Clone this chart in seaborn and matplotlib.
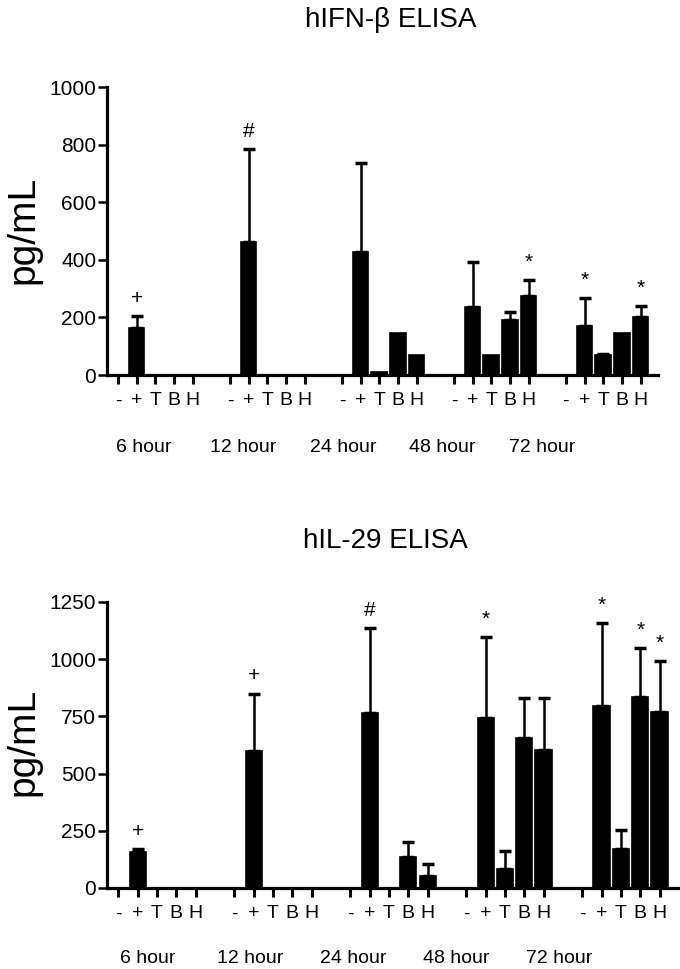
import numpy as np
import pandas as pd
import matplotlib
matplotlib.use("Agg")
import matplotlib.pyplot as plt
import matplotlib.transforms as mtransforms
import seaborn as sns

# ---- data (pg/mL) ----
groups = ["6 hour", "12 hour", "24 hour", "48 hour", "72 hour"]
treatments = ["-", "+", "T", "B", "H"]

ifn_mean = [0, 163, 0, 0, 0,
            0, 462, 0, 0, 0,
            0, 427, 10, 146, 69,
            0, 236, 69, 191, 274,
            0, 170, 69, 146, 201]
ifn_err = [0, 42, 0, 0, 0,
           0, 323, 0, 0, 0,
           0, 309, 0, 0, 0,
           0, 156, 0, 28, 56,
           0, 97, 3, 0, 39]
ifn_mark = ["", "+", "", "", "",
            "", "#", "", "", "",
            "", "", "", "", "",
            "", "", "", "", "*",
            "", "*", "", "", "*"]

il29_mean = [0, 157, 0, 0, 0,
             0, 599, 0, 0, 0,
             0, 765, 0, 136, 52,
             0, 743, 83, 656, 603,
             0, 795, 170, 835, 769]
il29_err = [0, 13, 0, 0, 0,
            0, 249, 0, 0, 0,
            0, 371, 0, 65, 53,
            0, 354, 79, 174, 227,
            0, 363, 83, 214, 223]
il29_mark = ["", "+", "", "", "",
             "", "+", "", "", "",
             "", "#", "", "", "",
             "", "*", "", "", "",
             "", "*", "", "*", "*"]

ifn_ticks = [0, 200, 400, 600, 800, 1000]
il29_ticks = [0, 250, 500, 750, 1000, 1250]

sns.set_style("ticks")
plt.rcParams['font.family'] = ['Liberation Sans', 'DejaVu Sans']
for key in ["text.color", "axes.labelcolor", "xtick.color", "ytick.color", "axes.edgecolor"]:
    plt.rcParams[key] = "black"

# slot order: 5 bars per time point with one empty slot in between
order = []
for gi, g in enumerate(groups):
    order += [g + "|" + t for t in treatments]
    if gi < len(groups) - 1:
        order.append("gap%d" % gi)


def draw_panel(ax, mean, err, mark, ticks):
    df = pd.DataFrame({
        "slot": [g + "|" + t for g in groups for t in treatments],
        "treat": [t for g in groups for t in treatments],
        "value": mean, "err": err, "mark": mark,
    })
    sns.barplot(data=df, x="slot", y="value", order=order, color="black",
                saturation=1, width=0.84, errorbar=None, ax=ax,
                edgecolor="black", linewidth=1.2)
    pos = np.array([order.index(s) for s in df["slot"]])
    has = (df["err"] > 0).values
    ax.errorbar(pos[has], df["value"][has],
                yerr=[np.zeros(has.sum()), df["err"][has]],
                fmt="none", ecolor="black", elinewidth=1.8,
                capsize=4, capthick=2.5, zorder=1)
    for p, v, e, m in zip(pos, df["value"], df["err"], df["mark"]):
        if m:
            ax.annotate(m, (p, v + e), xytext=(0, 9), textcoords="offset points",
                        ha="center", va="baseline", fontsize=15, annotation_clip=False)
    ax.set_xticks(pos)
    ax.set_xticklabels(df["treat"], fontsize=14)
    ax.set_xlim(-0.6, len(order) - 0.05)
    ax.set_ylim(ticks[0], ticks[-1])
    ax.set_yticks(ticks)
    ax.set_yticklabels([str(t) for t in ticks], fontsize=15)
    ax.set_xlabel("")
    ax.set_ylabel("")
    sns.despine(ax=ax)
    for s in ["left", "bottom"]:
        ax.spines[s].set_linewidth(2.3)
    ax.tick_params(axis="y", length=6.5, width=1.8, pad=1)
    ax.tick_params(axis="x", length=6.5, width=2.2, pad=6)
    # x in data units, y in figure units for the time point labels
    return mtransforms.blended_transform_factory(ax.transData, ax.figure.transFigure)


fig = plt.figure(figsize=(6.8, 9.69), dpi=100)
ax1 = fig.add_axes([0.157, 0.613, 0.811, 0.297])
ax2 = fig.add_axes([0.157, 0.0836, 0.840, 0.2952])

t1 = draw_panel(ax1, ifn_mean, ifn_err, ifn_mark, ifn_ticks)
t2 = draw_panel(ax2, il29_mean, il29_err, il29_mark, il29_ticks)

for i, g in enumerate(groups):
    fig.text(1.4 + 5.33 * i, 0.538, g, transform=t1, ha="center", va="center", fontsize=14)
    fig.text(1.5 + 5.33 * i, 0.011, g, transform=t2, ha="center", va="center", fontsize=14)

fig.text(0.574, 0.972, "hIFN-β ELISA", ha="center", va="baseline", fontsize=20)
fig.text(0.566, 0.4345, "hIL-29 ELISA", ha="center", va="baseline", fontsize=20)
fig.text(0.034, 0.763, "pg/mL", rotation=90, ha="center", va="center", fontsize=28)
fig.text(0.034, 0.234, "pg/mL", rotation=90, ha="center", va="center", fontsize=28)

fig.savefig("out.png", dpi=100)
